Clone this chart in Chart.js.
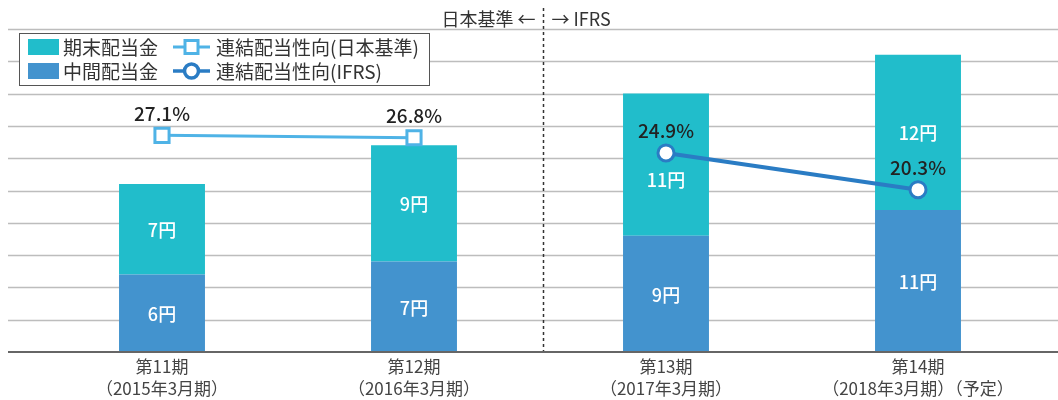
<!DOCTYPE html>
<html>
<head>
<meta charset="utf-8">
<script src="https://cdn.jsdelivr.net/npm/chart.js@4"></script>
<style>
  html, body { margin: 0; padding: 0; background: #fff; }
  #wrap { width: 1058px; height: 400px; }
</style>
</head>
<body>
<div id="wrap"><canvas id="divChart"></canvas></div>
<script>
const categories = ['第11期', '第12期', '第13期', '第14期'];
const periodLabels = ['（2015年3月期）', '（2016年3月期）', '（2017年3月期）', '（2018年3月期）（予定）'];
const interimDiv = [6, 7, 9, 11];      // 中間配当金 (円)
const yearEndDiv = [7, 9, 11, 12];     // 期末配当金 (円)
const payoutJgaap = [27.1, 26.8, null, null]; // 連結配当性向(日本基準) %
const payoutIfrs = [null, null, 24.9, 20.3];  // 連結配当性向(IFRS) %
const yenTicks = [0, 2.5, 5, 7.5, 10, 12.5, 15, 17.5, 20, 22.5, 25];

const FONT = '"Noto Sans CJK JP", "Noto Sans", sans-serif';
const TEAL = '#21bdcb';
const BLUE = '#4393ce';
const LIGHT_LINE = '#4fb3e6';
const DARK_LINE = '#2a7cc4';

const decor = {
    id: 'decor',
    beforeDatasetsDraw(chart) {
        const ctx = chart.ctx;
        const y = chart.scales.y;
        const x = chart.scales.x;
        ctx.save();
        ctx.strokeStyle = '#bdbdbd';
        ctx.lineWidth = 1.5;
        yenTicks.slice(1).forEach(v => {
            const py = Math.round(y.getPixelForValue(v)) + 0.5;
            ctx.beginPath();
            ctx.moveTo(8, py);
            ctx.lineTo(1058, py);
            ctx.stroke();
        });
        // 日本基準 / IFRS separator
        const sx = Math.round(x.getPixelForValue(1.5)) + 3.5;
        ctx.strokeStyle = '#333';
        ctx.lineWidth = 1.5;
        ctx.setLineDash([3, 3]);
        ctx.beginPath();
        ctx.moveTo(sx, 8);
        ctx.lineTo(sx, y.getPixelForValue(0));
        ctx.stroke();
        ctx.setLineDash([]);
        ctx.fillStyle = '#333';
        ctx.font = '18px ' + FONT;
        ctx.textBaseline = 'middle';
        ctx.textAlign = 'right';
        ctx.fillText('日本基準 ←', sx - 8, 19);
        ctx.textAlign = 'left';
        ctx.fillText('→ IFRS', sx + 8, 19);
        ctx.restore();
    },
    afterDatasetsDraw(chart) {
        const ctx = chart.ctx;
        const y = chart.scales.y;
        const x = chart.scales.x;
        ctx.save();
        // baseline
        const by = y.getPixelForValue(0);
        ctx.strokeStyle = '#666';
        ctx.lineWidth = 2;
        ctx.beginPath();
        ctx.moveTo(8, by);
        ctx.lineTo(1058, by);
        ctx.stroke();

        const jp = chart.getDatasetMeta(2).data;
        const ifrs = chart.getDatasetMeta(3).data;
        const linePts = categories.map((c, i) => payoutJgaap[i] != null ? jp[i] : (payoutIfrs[i] != null ? ifrs[i] : null));

        // bar value labels
        ctx.fillStyle = '#fff';
        ctx.font = '500 18px ' + FONT;
        ctx.textAlign = 'center';
        ctx.textBaseline = 'middle';
        [0, 1].forEach(di => {
            const meta = chart.getDatasetMeta(di);
            const vals = chart.data.datasets[di].data;
            meta.data.forEach((bar, i) => {
                let ly = (bar.y + bar.base) / 2;
                const p = linePts[i];
                if (p && Math.abs(ly - p.y) < 18) ly = p.y + 26;
                ctx.fillText(vals[i] + '円', bar.x, ly + 1);
            });
        });

        // payout ratio labels
        ctx.fillStyle = '#222';
        ctx.font = '500 19px ' + FONT;
        linePts.forEach((p, i) => {
            if (!p) return;
            const v = payoutJgaap[i] != null ? payoutJgaap[i] : payoutIfrs[i];
            ctx.fillText(v.toFixed(1) + '%', p.x, p.y - 22);
        });

        // category labels
        ctx.fillStyle = '#444';
        ctx.font = '17px ' + FONT;
        categories.forEach((c, i) => {
            const px = x.getPixelForValue(i);
            ctx.fillText(c, px, 367);
            ctx.fillText(periodLabels[i], px, 389);
        });
        ctx.restore();
    },
    afterDraw(chart) {
        const ctx = chart.ctx;
        ctx.save();
        // legend box
        ctx.fillStyle = '#fff';
        ctx.fillRect(19.5, 33.5, 410, 52);
        ctx.strokeStyle = '#555';
        ctx.lineWidth = 1;
        ctx.strokeRect(19.5, 33.5, 410, 52);
        ctx.font = '19px ' + FONT;
        ctx.textBaseline = 'middle';
        ctx.textAlign = 'left';
        const rows = [47, 71];
        ctx.fillStyle = TEAL;
        ctx.fillRect(28, rows[0] - 8, 31, 16);
        ctx.fillStyle = BLUE;
        ctx.fillRect(28, rows[1] - 8, 31, 16);
        ctx.fillStyle = '#333';
        ctx.fillText(chart.data.datasets[1].label, 63, rows[0] + 1);
        ctx.fillText(chart.data.datasets[0].label, 63, rows[1] + 1);
        // line keys
        ctx.lineWidth = 3;
        ctx.strokeStyle = LIGHT_LINE;
        ctx.beginPath(); ctx.moveTo(173, rows[0]); ctx.lineTo(210, rows[0]); ctx.stroke();
        ctx.fillStyle = '#fff';
        ctx.fillRect(185, rows[0] - 6.5, 13, 13);
        ctx.strokeRect(185, rows[0] - 6.5, 13, 13);
        ctx.lineWidth = 3.5;
        ctx.strokeStyle = DARK_LINE;
        ctx.beginPath(); ctx.moveTo(173, rows[1]); ctx.lineTo(210, rows[1]); ctx.stroke();
        ctx.beginPath(); ctx.arc(191.5, rows[1], 7, 0, Math.PI * 2); ctx.fill(); ctx.stroke();
        ctx.fillStyle = '#333';
        ctx.fillText(chart.data.datasets[2].label, 216, rows[0] + 1);
        ctx.fillText(chart.data.datasets[3].label, 216, rows[1] + 1);
        ctx.restore();
    }
};

const ctx = document.getElementById('divChart').getContext('2d');
new Chart(ctx, {
    type: 'bar',
    data: {
        labels: categories,
        datasets: [
            {
                label: '中間配当金',
                data: interimDiv,
                backgroundColor: BLUE,
                stack: 'div',
                order: 2
            },
            {
                label: '期末配当金',
                data: yearEndDiv,
                backgroundColor: TEAL,
                stack: 'div',
                order: 2
            },
            {
                type: 'line',
                label: '連結配当性向(日本基準)',
                data: payoutJgaap,
                yAxisID: 'y1',
                borderColor: LIGHT_LINE,
                borderWidth: 3,
                pointStyle: 'rect',
                pointRadius: 10,
                pointBorderWidth: 3,
                pointBackgroundColor: '#fff',
                pointBorderColor: LIGHT_LINE,
                order: 0
            },
            {
                type: 'line',
                label: '連結配当性向(IFRS)',
                data: payoutIfrs,
                yAxisID: 'y1',
                borderColor: DARK_LINE,
                borderWidth: 4,
                pointStyle: 'circle',
                pointRadius: 8,
                pointBorderWidth: 3,
                pointBackgroundColor: '#fff',
                pointBorderColor: DARK_LINE,
                order: 0
            }
        ]
    },
    options: {
        responsive: true,
        maintainAspectRatio: false,
        animation: false,
        layout: { padding: { top: 29, bottom: 48, left: 36, right: 14 } },
        datasets: { bar: { barPercentage: 0.341, categoryPercentage: 1 } },
        plugins: { legend: { display: false }, tooltip: { enabled: false } },
        scales: {
            x: { display: false, offset: true },
            y: { display: false, stacked: true, min: 0, max: 25 },
            y1: { display: false, min: 0, max: 40.4 }
        }
    },
    plugins: [decor]
});
</script>
</body>
</html>
